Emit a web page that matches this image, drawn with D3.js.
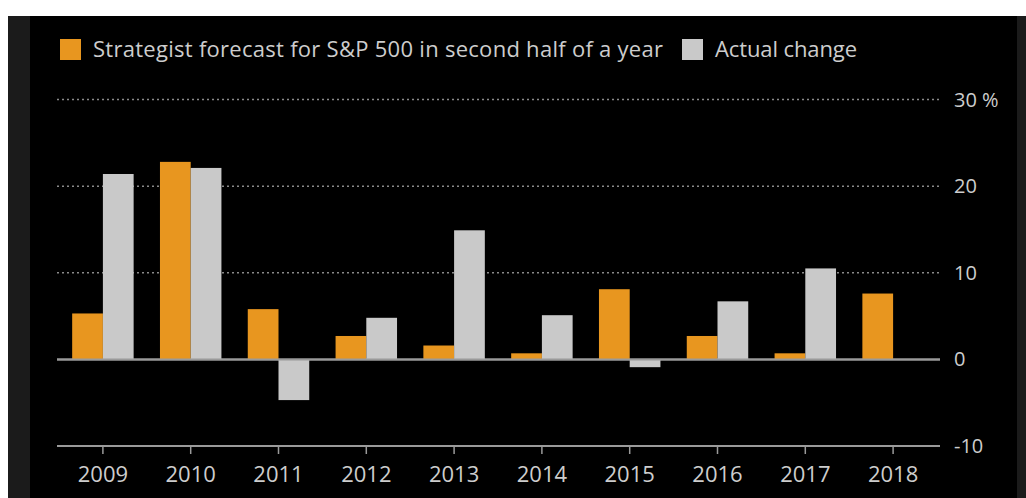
<!DOCTYPE html>
<html>
<head>
<meta charset="utf-8">
<script src="https://cdn.jsdelivr.net/npm/d3@7"></script>
<style>
  html, body { margin: 0; padding: 0; background: #fff; }
  svg { display: block; }
  text { font-family: "Open Sans", "Noto Sans", sans-serif; fill: #cdcdcd; }
</style>
</head>
<body>
<div class="plot"></div>
<script>
// chart data
const years = ['2009', '2010', '2011', '2012', '2013', '2014', '2015', '2016', '2017', '2018'];
const forecast = [5.3, 22.8, 5.8, 2.7, 1.6, 0.7, 8.1, 2.7, 0.7, 7.6];
const actual = [21.4, 22.1, -4.7, 4.8, 14.9, 5.1, -0.9, 6.7, 10.5, null];
const yTicks = [-10, 0, 10, 20, 30];
const seriesNames = ['Strategist forecast for S&P 500 in second half of a year', 'Actual change'];
const seriesColors = ['#e8961f', '#c9c9c9'];

const W = 1026, H = 498;
const root = d3.select('.plot').node();

const svg = d3.select(root).append('svg')
	.attr('width', W)
	.attr('height', H);

// panel: black with darker grey strips on the sides
svg.append('rect').attr('x', 8).attr('y', 16).attr('width', W - 8).attr('height', H - 16).attr('fill', '#1b1b1b');
svg.append('rect').attr('x', 30).attr('y', 16).attr('width', 987).attr('height', H - 16).attr('fill', '#000');

// scales
const x = d3.scaleBand().domain(years).range([59, 937]).paddingInner(0.3).paddingOuter(0.15);
const x1 = d3.scaleBand().domain([0, 1]).range([0, x.bandwidth()]);
const y = d3.scaleLinear().domain([-10, 30]).range([446, 99.5]);

// gridlines
const grid = svg.append('g');
grid.selectAll('line')
	.data(yTicks)
	.join('line')
	.attr('x1', 57)
	.attr('x2', 940)
	.attr('y1', d => y(d))
	.attr('y2', d => y(d))
	.attr('stroke', d => d <= 0 ? '#9a9a9a' : '#8a8a8a')
	.attr('stroke-width', d => d <= 0 ? 2 : 1.5)
	.attr('stroke-dasharray', d => d <= 0 ? null : '2,3');

// y labels on the right
svg.append('g').selectAll('text')
	.data(yTicks)
	.join('text')
	.attr('x', 954)
	.attr('y', d => y(d))
	.attr('dy', '0.35em')
	.attr('font-size', 20)
	.text(d => d === 30 ? '30 %' : d);

// bars
const groups = svg.append('g').selectAll('g')
	.data(years.map((yr, i) => ({ yr, vals: [forecast[i], actual[i]] })))
	.join('g')
	.attr('transform', d => `translate(${x(d.yr)},0)`);

groups.selectAll('rect')
	.data(d => d.vals.map((v, k) => ({ v, k })).filter(e => e.v !== null))
	.join('rect')
	.attr('x', e => x1(e.k))
	.attr('width', x1.bandwidth())
	.attr('y', e => y(Math.max(0, e.v)))
	.attr('height', e => Math.abs(y(e.v) - y(0)))
	.attr('fill', e => seriesColors[e.k]);

// redraw zero line over bars
svg.append('line')
	.attr('x1', 57).attr('x2', 940)
	.attr('y1', y(0)).attr('y2', y(0))
	.attr('stroke', '#9a9a9a').attr('stroke-width', 2);

// x axis at -10
const xAxis = svg.append('g')
	.attr('transform', `translate(0,${y(-10)})`)
	.call(d3.axisBottom(x).tickSize(8).tickSizeOuter(0).tickPadding(12));
xAxis.select('.domain').remove();
xAxis.selectAll('line').attr('stroke', '#9a9a9a').attr('stroke-width', 1.5);
xAxis.selectAll('text').attr('font-size', 22).attr('fill', '#cdcdcd').style('font-family', '"Open Sans", sans-serif');

// legend
const legend = svg.append('g');
const legX = [60, 682];
const legLen = [570, 142];
seriesNames.forEach((name, i) => {
	legend.append('rect')
		.attr('x', legX[i]).attr('y', 39)
		.attr('width', 21).attr('height', 21)
		.attr('fill', seriesColors[i]);
	legend.append('text')
		.attr('x', legX[i] + 33).attr('y', 49)
		.attr('dy', '0.35em')
		.attr('font-size', 22)
		.attr('textLength', legLen[i])
		.attr('lengthAdjust', 'spacing')
		.text(name);
});
</script>
</body>
</html>
